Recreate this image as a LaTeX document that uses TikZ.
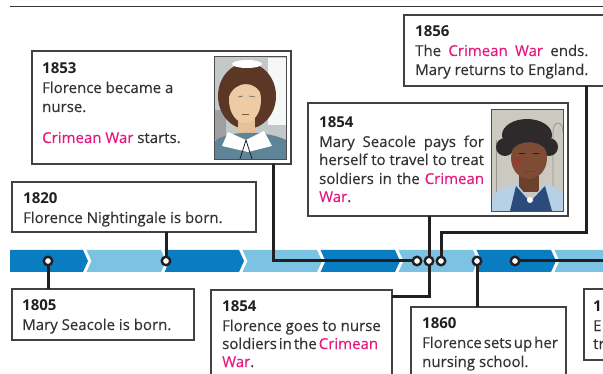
\documentclass[tikz,border=0pt]{standalone}
\usepackage{fontspec}
\usepackage{calc}
\setmainfont{Open Sans}[UprightFeatures={FakeBold=0.35}]
\definecolor{dk}{HTML}{0A7CC2}
\definecolor{lt}{HTML}{7CC2E3}
\definecolor{pk}{HTML}{E5197E}
\definecolor{ink}{HTML}{333333}
\definecolor{ln}{HTML}{231F20}
\definecolor{fbg}{HTML}{C3C8C8}
\definecolor{hairF}{HTML}{5B3726}
\definecolor{skinF}{HTML}{EDCBA5}
\definecolor{dressF}{HTML}{5F8498}
\definecolor{mbg}{HTML}{CCC9C1}
\definecolor{skinM}{HTML}{7E4B35}
\definecolor{scarfM}{HTML}{2C4A7A}
\definecolor{collM}{HTML}{B7D0E6}
\newcommand{\pkt}[1]{\textcolor{pk}{#1}}
\newcommand{\tightsp}[1]{{\spaceskip=2pt plus 1pt\relax #1}}
\begin{document}
\begin{tikzpicture}[x=1pt,y=-1pt,
  boxst/.style={draw=ln!85, line width=1.2pt, fill=white, rectangle, anchor=north west, inner sep=0pt, outer sep=0pt},
  conn/.style={draw=ln, line width=3pt},
  dot/.style={circle, draw=ln, fill=white, line width=2.4pt, minimum size=8.5pt, inner sep=0pt},
  tx/.style={anchor=base west, inner sep=0pt, text=ink, font=\fontsize{15}{19}\selectfont},
  yr/.style={anchor=base west, inner sep=0pt, text=ln, font=\fontsize{15}{19}\selectfont\bfseries},
  frame/.style={draw=ln!80, line width=0.9pt}]
\clip (0,0) rectangle (603,374);
\fill[white] (0,0) rectangle (603,374);
% top rule
\draw[ln!90, line width=1pt] (10,7) -- (603,7);
% chevron band
\fill[dk] (10,250) -- (83,250) -- (88,261) -- (83,272) -- (10,272) -- cycle;
\foreach \k/\c in {1/lt,2/dk,3/lt,4/dk,5/lt,6/dk,7/lt} {
  \fill[\c] ({10+78*\k-1.5},250) -- ({10+78*\k+73},250) -- ({10+78*\k+78},261) -- ({10+78*\k+73},272) -- ({10+78*\k-1.5},272) -- ({10+78*\k+3.5},261) -- cycle;
}
% boxes
\node[boxst, minimum width=259pt, minimum height=113pt] (b1853) at (32,51) {};
\node[boxst, minimum width=244pt, minimum height=50pt] (b1820) at (12,182) {};
\node[boxst, minimum width=182pt, minimum height=51pt] (b1805) at (12,289) {};
\node[boxst, minimum width=181pt, minimum height=100pt] (bFlo54) at (211,290) {};
\node[boxst, minimum width=155pt, minimum height=90pt] (b1860) at (411,307) {};
\node[boxst, minimum width=216pt, minimum height=71pt] (b1856) at (404,15) {};
\node[boxst, minimum width=260pt, minimum height=113pt] (bMary) at (308,103) {};
\node[boxst, minimum width=60pt, minimum height=71pt] (bRight) at (584,289) {};
% timeline dots
\node[dot] (d1805) at (48,261) {};
\node[dot] (d1820) at (166,261) {};
\node[dot] (d1853) at (417,261) {};
\node[dot] (d1854) at (429,261) {};
\node[dot] (d1856) at (441,261) {};
\node[dot] (d1860) at (477,261) {};
\node[dot] (dNext) at (515,261) {};
\coordinate (k1856) at (586,233);
\coordinate (rEnd) at (610,261);
% connectors
\draw[conn] (d1805.south) -- (b1805.north -| d1805);
\draw[conn] (b1820.south -| d1820) -- (d1820.north);
\draw[conn] (d1853.west) -| ([xshift=241pt]b1853.south west);
\draw[conn] (bMary.south -| d1854) -- (d1854.north);
\draw[conn] (d1854.south) |- ([yshift=-7pt]bFlo54.north east);
\draw[conn] (d1856.north) |- (k1856) -- (k1856 |- b1856.south);
\draw[conn] (d1860.south) -- (d1860 |- b1860.north);
\draw[conn] (dNext.east) -- (rEnd);
% Florence portrait
\begin{scope}
\clip (214,56) rectangle (286,159);
\fill[fbg] (214,56) rectangle (286,159);
\fill[white!85!fbg] (268,58) rectangle (286,125);
\fill[fbg!80!black] (214,110) rectangle (226,140);
\fill[hairF] (247,96) ellipse (29 and 33);
\fill[white] (247,64) ellipse (15 and 4);
\fill[skinF!85!brown] (238,116) rectangle (255,138);
\fill[skinF] (245,100) ellipse (16 and 23);
\fill[hairF] (229,96) .. controls (228,70) and (262,70) .. (262,96) .. controls (256,80) and (236,80) .. cycle;
\draw[ln!70, line width=0.6pt] (238,97) -- (243,96) (249,96) -- (255,97);
\draw[brown!70!black, line width=0.6pt] (242,114) -- (249,114);
\fill[dressF] (214,159) -- (214,142) .. controls (226,130) and (266,130) .. (286,140) -- (286,159) -- cycle;
\fill[white] (228,132) -- (246,140) -- (264,131) -- (272,146) -- (248,152) -- (222,146) -- cycle;
\draw[ln, line width=0.8pt] (246,140) -- (240,159) (246,140) -- (252,159);
\end{scope}
\draw[frame] (214,56) rectangle (286,159);
% Mary portrait
\begin{scope}
\clip (491,109) rectangle (563,211);
\fill[mbg] (491,109) rectangle (563,211);
\draw[mbg!75!black, line width=0.8pt] (553,211) -- (553,132) .. controls (553,120) and (563,120) .. (563,132);
\draw[mbg!75!black, line width=0.8pt] (496,211) -- (496,140);
\fill[ln!95] (527,135) ellipse (25 and 16);
\fill[ln!95] (505,147) circle (9);
\fill[ln!95] (549,147) circle (9);
\fill[skinM!85!black] (519,168) rectangle (539,192);
\fill[skinM] (529,158) ellipse (18 and 21);
\fill[ln!95] (511,152) .. controls (511,128) and (547,128) .. (547,152) .. controls (542,139) and (516,139) .. cycle;
\fill[red!35!skinM, opacity=0.35] (517,162) circle (5);
\draw[ln, line width=0.6pt] (519,153) -- (525,153) (533,153) -- (539,153);
\draw[ln!80, line width=0.7pt] (524,171) -- (534,171);
\fill[collM] (491,211) -- (491,196) .. controls (500,188) and (510,186) .. (516,183) -- (530,200) -- (546,183) .. controls (552,186) and (560,190) .. (563,194) -- (563,211) -- cycle;
\fill[scarfM] (510,211) -- (516,186) -- (530,202) -- (545,186) -- (552,211) -- cycle;
\fill[white] (530,200) circle (3);
\end{scope}
\draw[frame] (491,109) rectangle (563,211);
% texts
\node[yr] (t53y) at (42,74) {1853};
\node[tx] (t53a) at (42,93) {Florence became a};
\node[tx] (t53b) at (42,112) {nurse.};
\node[tx] (t53c) at (42,143) {\pkt{Crimean War} starts.};
\node[yr] (t20y) at (23,204) {1820};
\node[tx] (t20a) at (23,223) {Florence Nightingale is born.};
\node[yr] (t05y) at (22,311) {1805};
\node[tx] (t05a) at (22,330) {Mary Seacole is born.};
\node[yr] (tF4y) at (222,312) {1854};
\node[tx] (tF4a) at (222,331) {Florence goes to nurse};
\node[tx] (tF4b) at (222,349) {\tightsp{soldiers in the \pkt{Crimean}}};
\node[tx] (tF4c) at (222,367) {\pkt{War}.};
\node[yr] (t60y) at (422,329) {1860};
\node[tx] (t60a) at (422,348) {\tightsp{Florence sets up her}};
\node[tx] (t60b) at (422,367) {nursing school.};
\node[yr] (t56y) at (415,37) {1856};
\node[tx] (t56a) at (415,56) {\makebox[\widthof{Mary returns to England.}][s]{The \pkt{Crimean War} ends.}};
\node[tx] (t56b) at (415,75) {Mary returns to England.};
\node[yr] (tM4y) at (319,128) {1854};
\node[tx] (tM4a) at (319,147) {\makebox[\widthof{herself to travel to treat}][s]{Mary Seacole pays for}};
\node[tx] (tM4b) at (319,165) {herself to travel to treat};
\node[tx] (tM4c) at (319,184) {\makebox[\widthof{herself to travel to treat}][s]{soldiers in the \pkt{Crimean}}};
\node[tx] (tM4d) at (319,202) {\pkt{War}.};
\node[yr] (tRy) at (593,312) {1};
\node[tx] (tRa) at (593,331) {E};
\node[tx] (tRb) at (593,349) {tr};
\end{tikzpicture}
\end{document}
